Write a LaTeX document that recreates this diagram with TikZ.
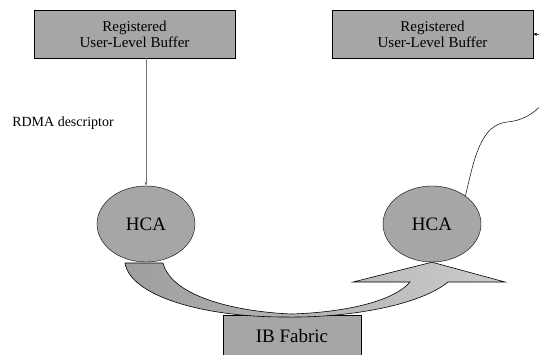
\documentclass[tikz,border=0pt]{standalone}
\usepackage{fontspec}
\setmainfont{Liberation Serif}
\usetikzlibrary{arrows.meta,shapes.geometric}

\begin{document}
\begin{tikzpicture}[x=1pt,y=-1pt,
  buffer/.style={draw,fill=black!35,minimum width=201pt,minimum height=48pt,align=center,
    inner sep=0pt,font=\fontsize{15}{16}\selectfont},
  hca/.style={ellipse,draw,fill=black!35,minimum width=98pt,minimum height=76pt,inner sep=0pt,
    font=\fontsize{19}{22}\selectfont},
  fabric/.style={draw,fill=black!35,minimum width=138pt,minimum height=42pt,inner sep=0pt,
    font=\fontsize{19}{22}\selectfont},
  tip/.style={-{Stealth[length=4pt,width=3pt]}}]

\useasboundingbox (0,0) rectangle (539,354);

\node[buffer] (bufL) at (134.5,34) {Registered\\User-Level Buffer};
\node[buffer] (bufR) at (432.5,34) {Registered\\User-Level Buffer};

\node[font=\fontsize{14}{16}\selectfont] (rdma) at (63,123) {RDMA descriptor};

\node[hca] (hcaL) at (146,224) {HCA};
\node[hca] (hcaR) at (432,224) {HCA};

\node[fabric] (ib) at (292,336) {IB Fabric};

% transfer through the fabric
\draw[left color=black!38,right color=black!20,line width=.6pt]
  (125,263) -- (163,263) .. controls (172,298) and (240,312) .. (292,314)
  .. controls (350,312) and (395,300) .. (410,282) -- (353,282) -- (hcaR.south)
  -- (505,282) -- (448,282) .. controls (420,305) and (350,318) .. (285,317)
  .. controls (200,317) and (130,295) .. (125,263) -- cycle;

\draw[tip,black!55,line width=.7pt] (bufL.south -| hcaL.north) -- (hcaL.north);

\draw[tip,line width=.5pt] (hcaR.40) .. controls (474,160) and (480,125) .. (507,122)
  .. controls (560,118) and (575,38) .. (bufR.east);

\end{tikzpicture}
\end{document}
